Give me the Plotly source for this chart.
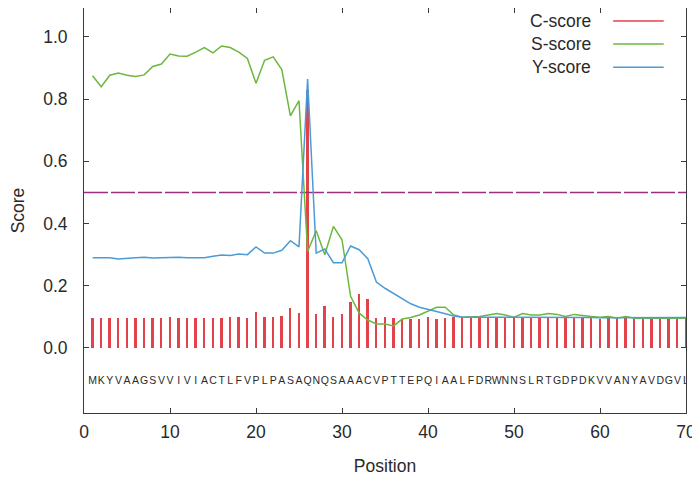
import plotly.graph_objects as go

sequence = "MKYVAAGSVVIVIACTLFVPLPASAQNQSAAACVPTTEPQIAALFDRWNNSLRTGDPDKVVANYAVDGVL"
positions = list(range(1, 71))

c_score = [0.097, 0.097, 0.097, 0.097, 0.097, 0.097, 0.097, 0.097, 0.097, 0.100,
           0.097, 0.097, 0.097, 0.097, 0.097, 0.097, 0.100, 0.100, 0.097, 0.115,
           0.100, 0.100, 0.104, 0.127, 0.112, 0.830, 0.108, 0.134, 0.100, 0.108,
           0.147, 0.174, 0.158, 0.097, 0.099, 0.096, 0.094, 0.094, 0.094, 0.099,
           0.094, 0.096, 0.101, 0.096, 0.096, 0.096, 0.096, 0.096, 0.096, 0.096,
           0.096, 0.097, 0.097, 0.100, 0.100, 0.100, 0.097, 0.097, 0.100, 0.094,
           0.097, 0.094, 0.097, 0.094, 0.094, 0.094, 0.094, 0.094, 0.094, 0.094]

s_score = [0.875, 0.840, 0.877, 0.884, 0.877, 0.873, 0.878, 0.905, 0.913, 0.945,
           0.939, 0.938, 0.951, 0.966, 0.949, 0.971, 0.966, 0.951, 0.931, 0.851,
           0.925, 0.936, 0.895, 0.746, 0.795, 0.310, 0.377, 0.300, 0.391, 0.348,
           0.166, 0.112, 0.090, 0.077, 0.077, 0.071, 0.093, 0.098, 0.106, 0.118,
           0.131, 0.131, 0.106, 0.099, 0.099, 0.101, 0.106, 0.111, 0.106, 0.099,
           0.111, 0.106, 0.106, 0.111, 0.108, 0.101, 0.108, 0.104, 0.101, 0.099,
           0.101, 0.096, 0.101, 0.096, 0.096, 0.096, 0.096, 0.096, 0.096, 0.096]

y_score = [0.290, 0.290, 0.290, 0.286, 0.289, 0.290, 0.292, 0.289, 0.290, 0.292,
           0.292, 0.290, 0.290, 0.290, 0.295, 0.299, 0.297, 0.302, 0.300, 0.325,
           0.305, 0.305, 0.314, 0.345, 0.325, 0.865, 0.305, 0.318, 0.274, 0.274,
           0.328, 0.316, 0.287, 0.212, 0.192, 0.176, 0.160, 0.142, 0.131, 0.125,
           0.117, 0.110, 0.103, 0.099, 0.099, 0.099, 0.099, 0.099, 0.099, 0.099,
           0.099, 0.100, 0.100, 0.100, 0.100, 0.100, 0.100, 0.099, 0.098, 0.097,
           0.097, 0.097, 0.097, 0.097, 0.098, 0.098, 0.098, 0.098, 0.098, 0.098]

threshold = 0.5
seq_label_y = -0.106

x_ticks = [0, 10, 20, 30, 40, 50, 60, 70]
y_ticks = [0.0, 0.2, 0.4, 0.6, 0.8, 1.0]
y_tick_labels = ["0.0", "0.2", "0.4", "0.6", "0.8", "1.0"]

RED = "#e2434b"
GREEN = "#6cb83c"
BLUE = "#4b9bd6"
PURPLE = "#9a2f80"
AXIS = "#3a3a3a"
TEXT = "#2a2a2a"
FONT = "Liberation Sans"
FS = 17.5

fig = go.Figure()

fig.add_trace(go.Scatter(x=[x_ticks[0], x_ticks[-1]], y=[threshold, threshold], mode="lines",
                         line=dict(color=PURPLE, width=1.5, dash="24px,3px"),
                         hoverinfo="skip", showlegend=False))

fig.add_trace(go.Bar(x=positions, y=c_score, width=0.22, marker=dict(color=RED, line=dict(width=0)),
                     name="C-score", showlegend=False))

fig.add_trace(go.Scatter(x=positions, y=s_score, mode="lines",
                         line=dict(color=GREEN, width=1.5), name="S-score", showlegend=False))

fig.add_trace(go.Scatter(x=positions, y=y_score, mode="lines",
                         line=dict(color=BLUE, width=1.5), name="Y-score", showlegend=False))

fig.add_trace(go.Scatter(x=positions, y=[seq_label_y] * len(positions), mode="text",
                         text=list(sequence), textfont=dict(family=FONT, size=10.5, color=TEXT),
                         hoverinfo="skip", showlegend=False))

# gnuplot-style legend (text then line sample)
legend_items = [("C-score", RED), ("S-score", GREEN), ("Y-score", BLUE)]
legend_y = [0.968, 0.911, 0.854]
for (label, col), ly in zip(legend_items, legend_y):
    fig.add_annotation(x=0.846, y=ly, xref="paper", yref="paper", text=label, showarrow=False,
                       xanchor="right", yanchor="middle", font=dict(family=FONT, size=FS, color=TEXT))
    fig.add_shape(type="line", xref="paper", yref="paper", x0=0.879, x1=0.963, y0=ly, y1=ly,
                  line=dict(color=col, width=1.5))

# the page body adds an 8px offset; the figure is sized so it fits the 700x479 window
fig.update_layout(
    width=692, height=471,
    margin=dict(l=76, r=14, t=0, b=66),
    paper_bgcolor="white", plot_bgcolor="white",
    font=dict(family=FONT, size=FS, color=TEXT),
    bargap=0,
)

fig.update_xaxes(range=[0, 70], tickvals=x_ticks, ticks="inside", ticklen=5, tickcolor=AXIS,
                 showline=True, linecolor=AXIS, linewidth=1, mirror="ticks", showgrid=False,
                 zeroline=False, tickfont=dict(size=FS, color=TEXT), ticklabelstandoff=3,
                 automargin=False,
                 title=dict(text="Position", font=dict(size=FS), standoff=18))
fig.update_yaxes(range=[-0.209, 1.093], tickvals=y_ticks, ticktext=y_tick_labels, ticks="inside",
                 ticklen=5, tickcolor=AXIS, showline=True, linecolor=AXIS, linewidth=1,
                 mirror="ticks", showgrid=False, zeroline=False, automargin=False,
                 tickfont=dict(size=FS, color=TEXT), ticklabelstandoff=12,
                 title=dict(text="Score", font=dict(size=FS), standoff=25))

fig.write_html("out.html")
